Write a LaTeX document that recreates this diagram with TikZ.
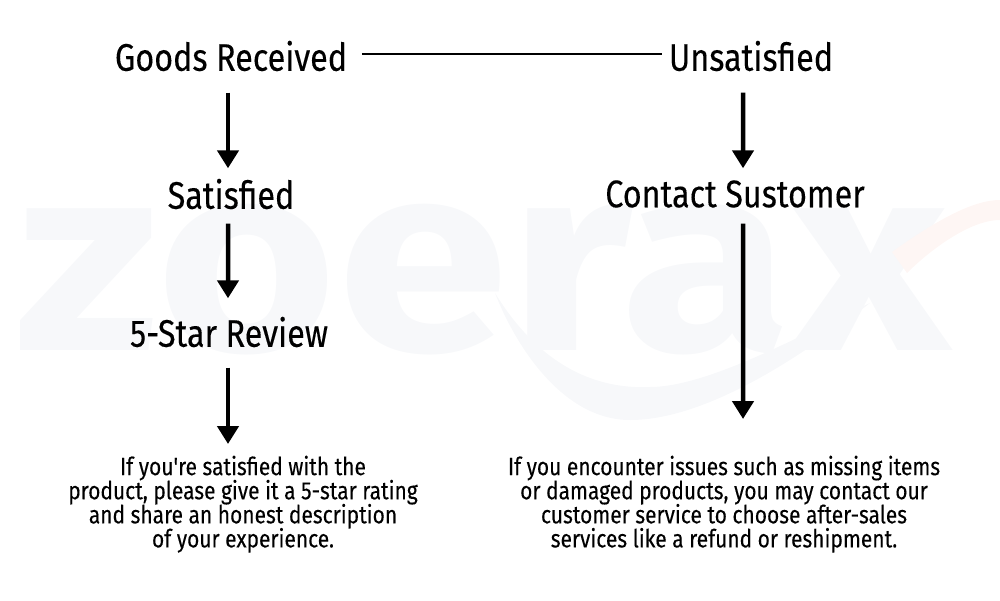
\documentclass[tikz,border=0pt]{standalone}
\usepackage{fontspec}
\setmainfont[Ligatures=TeXOff,FakeStretch=0.84,FakeBold=0.2]{Fira Sans}
\newfontfamily\markfont{Fira Sans}
\usepackage{tikz}
\usetikzlibrary{arrows.meta}
\definecolor{markgray}{HTML}{F7F8FA}
\definecolor{markred}{HTML}{FEF6F4}
\newcommand{\bodyfont}{\fontsize{7.1}{6.85}\selectfont\lineskiplimit=-5pt\relax}
\tikzset{
	headnode/.style={
			inner sep=0pt,
			minimum height=5.6mm,
			font=\fontsize{10.95}{12}\selectfont
		},
	bodynode/.style={
			align=center,
			inner sep=0pt,
			font=\bodyfont
		},
	flowarrow/.style={
			line width=0.45mm,
			-{Triangle[width=2.1mm,length=1.8mm]}
		}
}

\begin{document}
\begin{tikzpicture}
\useasboundingbox (0,0) rectangle (10,6);

% watermark
\node[inner sep=0pt, text=markgray, xscale=1.16, font=\markfont\bfseries\fontsize{76}{76}\selectfont] (logo) at (4.83,3.2) {zoerax};
\fill[markgray] (4.95,3.07) .. controls (5.13,2.6) and (5.6,1.8) .. (6.3,1.8) .. controls (7.1,1.8) and (8.1,2.5) .. (8.7,2.97) .. controls (8.1,2.7) and (7.1,2.13) .. (6.5,2.13) .. controls (5.8,2.1) and (5.3,2.5) .. (4.95,3.07);
\fill[markred] (8.92,3.48) .. controls (9.3,3.75) and (9.7,4) .. (10,4) -- (10,3.8) .. controls (9.7,3.8) and (9.3,3.5) .. (9.07,3.27) -- cycle;

% left column
\node[headnode] (goods) at (2.31,5.44) {Goods Received};
\node[headnode] (satisfied) at (2.31,4.06) {Satisfied};
\node[headnode] (review) at (2.29,2.68) {5-Star Review};
\node[bodynode, anchor=north] (ratetext) at (2.43,1.45) {If you're satisfied with the\\product, please give it a 5-star rating\\and share an honest description\\of your experience.};

% right column
\node[headnode] (unsatisfied) at (7.51,5.44) {Unsatisfied};
\node[headnode] (contact) at (7.35,4.06) {Contact Sustomer};
\node[bodynode, anchor=north] (servicetext) at (7.24,1.45) {If you encounter issues such as missing items\\or damaged products, you may contact our\\customer service to choose after-sales\\services like a refund or reshipment.};

\draw[line width=0.2mm] ([xshift=1.4mm,yshift=0.2mm]goods.east) -- ([xshift=-0.6mm,yshift=0.2mm]unsatisfied.west);

\draw[flowarrow] ([xshift=-0.3mm,yshift=-0.8mm]goods.south) -- ([xshift=-0.3mm,yshift=-0.3mm]satisfied.north);
\draw[flowarrow] ([xshift=-0.3mm,yshift=-0.1mm]satisfied.south) -- ([xshift=-0.1mm,yshift=0.5mm]review.north);
\draw[flowarrow] ([xshift=-0.1mm,yshift=-0.7mm]review.south) -- ([xshift=-1.5mm,yshift=1.1mm]ratetext.north);

\draw[flowarrow] ([xshift=-0.8mm,yshift=-0.8mm]unsatisfied.south) -- ([xshift=0.8mm,yshift=-0.3mm]contact.north);
\draw[flowarrow] ([xshift=0.8mm,yshift=-0.1mm]contact.south) -- ([xshift=1.9mm,yshift=3.6mm]servicetext.north);

\end{tikzpicture}
\end{document}
